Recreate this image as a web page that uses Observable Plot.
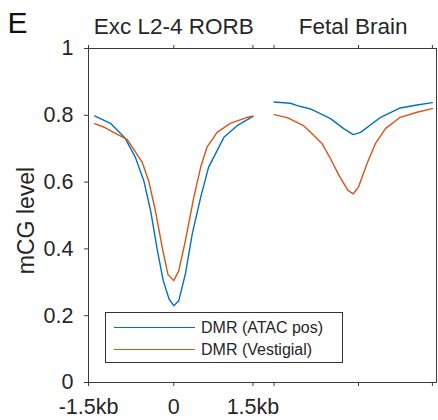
<!DOCTYPE html>
<html>
<head>
<meta charset="utf-8">
<script src="https://cdn.jsdelivr.net/npm/d3@7"></script>
<script src="https://cdn.jsdelivr.net/npm/@observablehq/plot@0.6"></script>
<style>
  body { margin: 0; background: #fff; }
  #wrap { position: relative; width: 438px; height: 420px; font-family: "Liberation Sans", Arial, Helvetica, sans-serif; }
  #legend { position: absolute; left: 105px; top: 312px; width: 238px; height: 51px; border: 1px solid #333; background: #fff; box-sizing: border-box; }
  .lg-row { position: absolute; left: 0; height: 20px; width: 100%; }
  .lg-line { position: absolute; left: 8px; width: 81px; top: 9px; height: 0; border-top-width: 1.4px; border-top-style: solid; }
  .lg-text { position: absolute; left: 95px; top: 0; font-size: 16px; line-height: 20px; color: #262626; white-space: nowrap; }
</style>
</head>
<body>
<div id="wrap"></div>
<script>
// ---- data ----
const panelLabel = "E";
const yLabel = "mCG level";
const seriesNames = ["DMR (ATAC pos)", "DMR (Vestigial)"];
const seriesColors = ["#0072BD", "#D95319"];
const panelNames = ["Exc L2-4 RORB", "Fetal Brain"];
const panelOffsetKb = [0, 3.4];

// Exc L2-4 RORB, DMR (ATAC pos)
const rorbAtacKb  = [-1.5, -1.2, -0.92, -0.73, -0.57, -0.44, -0.31, -0.20, -0.09, 0, 0.095, 0.22, 0.35, 0.51, 0.66, 0.95, 1.2, 1.5];
const rorbAtacMcg = [0.798, 0.776, 0.731, 0.675, 0.605, 0.515, 0.395, 0.305, 0.25, 0.23, 0.245, 0.325, 0.445, 0.555, 0.645, 0.734, 0.769, 0.797];
// Exc L2-4 RORB, DMR (Vestigial)
const rorbVestKb  = [-1.5, -1.33, -1.14, -0.88, -0.60, -0.47, -0.35, -0.22, -0.11, 0, 0.095, 0.22, 0.38, 0.51, 0.63, 0.82, 1.07, 1.39, 1.5];
const rorbVestMcg = [0.775, 0.765, 0.749, 0.727, 0.66, 0.60, 0.515, 0.405, 0.323, 0.305, 0.335, 0.425, 0.555, 0.645, 0.705, 0.749, 0.776, 0.794, 0.797];
// Fetal Brain, DMR (ATAC pos)
const fetalAtacKb  = [-1.5, -1.19, -1.06, -0.81, -0.43, -0.18, 0, 0.14, 0.52, 0.89, 1.21, 1.5];
const fetalAtacMcg = [0.840, 0.836, 0.829, 0.819, 0.790, 0.760, 0.742, 0.749, 0.794, 0.822, 0.831, 0.838];
// Fetal Brain, DMR (Vestigial)
const fetalVestKb  = [-1.5, -1.25, -0.94, -0.75, -0.59, -0.43, -0.27, -0.10, 0, 0.10, 0.26, 0.42, 0.61, 0.89, 1.21, 1.5];
const fetalVestMcg = [0.802, 0.793, 0.769, 0.740, 0.715, 0.670, 0.620, 0.575, 0.565, 0.585, 0.655, 0.715, 0.760, 0.794, 0.809, 0.820];

const xTickValues = [-1.616, 0, 1.5, 1.9, 3.5, 4.9];
const xTickLabels = ["-1.5kb", "0", "1.5kb", "", "", ""];
const yTickValues = [0, 0.2, 0.4, 0.6, 0.8, 1];
const yTickLabels = ["0", "0.2", "0.4", "0.6", "0.8", "1"];

// ---- build table ----
const groups = [
  {panel: 0, series: 0, kb: rorbAtacKb, v: rorbAtacMcg},
  {panel: 0, series: 1, kb: rorbVestKb, v: rorbVestMcg},
  {panel: 1, series: 0, kb: fetalAtacKb, v: fetalAtacMcg},
  {panel: 1, series: 1, kb: fetalVestKb, v: fetalVestMcg}
];
const rows = [];
for (const g of groups) {
  g.kb.forEach((k, i) => rows.push({
    key: panelNames[g.panel] + "|" + seriesNames[g.series],
    series: seriesNames[g.series],
    u: k + panelOffsetKb[g.panel],
    mcg: g.v[i]
  }));
}
const xLab = new Map(xTickValues.map((v, i) => [v, xTickLabels[i]]));
const yLab = new Map(yTickValues.map((v, i) => [v, yTickLabels[i]]));
const font = "'Liberation Sans', Arial, Helvetica, sans-serif";
const ink = "#262626";

const chart = Plot.plot({
  width: 438,
  height: 420,
  marginLeft: 88,
  marginRight: 2,
  marginTop: 48,
  marginBottom: 38,
  x: {domain: [-1.616, 4.978]},
  y: {domain: [0, 1]},
  color: {domain: seriesNames, range: seriesColors},
  style: {fontFamily: font, color: ink, background: "#fff", overflow: "visible"},
  marks: [
    Plot.frame({stroke: "#3a3a3a", strokeWidth: 1}),
    Plot.axisX({anchor: "bottom", ticks: xTickValues, tickFormat: d => xLab.get(d), tickSize: 4, tickPadding: 12, fontSize: 21.5, label: null, stroke: "#3a3a3a", fill: ink}),
    Plot.axisX({anchor: "top", ticks: xTickValues, tickFormat: () => "", tickSize: 4, label: null, stroke: "#3a3a3a"}),
    Plot.axisY({anchor: "left", ticks: yTickValues, tickFormat: d => yLab.get(d), tickSize: 4, tickPadding: 11, fontSize: 21.5, label: null, stroke: "#3a3a3a", fill: ink}),
    Plot.line(rows, {x: "u", y: "mcg", z: "key", stroke: "series", strokeWidth: 1.4}),
    Plot.text(panelNames, {x: (d, i) => panelOffsetKb[i], frameAnchor: "top", dy: -15, lineAnchor: "bottom", textAnchor: "middle", fontSize: 22.5, fill: ink, text: d => d}),
    Plot.text([yLabel], {frameAnchor: "left", rotate: -90, dx: -55, dy: 5, lineAnchor: "bottom", textAnchor: "middle", fontSize: 23, fill: ink, text: d => d}),
    Plot.text([panelLabel], {frameAnchor: "top-left", dx: -81, dy: -16, lineAnchor: "bottom", textAnchor: "start", fontSize: 30, fill: "#111", text: d => d})
  ]
});

const wrap = document.getElementById("wrap");
wrap.appendChild(chart);

// legend (HTML overlay inside the axes box)
const legend = document.createElement("div");
legend.id = "legend";
seriesNames.forEach((name, i) => {
  const row = document.createElement("div");
  row.className = "lg-row";
  row.style.top = (5 + i * 22) + "px";
  const ln = document.createElement("div");
  ln.className = "lg-line";
  ln.style.borderTopColor = seriesColors[i];
  const tx = document.createElement("div");
  tx.className = "lg-text";
  tx.textContent = name;
  row.appendChild(ln);
  row.appendChild(tx);
  legend.appendChild(row);
});
wrap.appendChild(legend);
</script>
</body>
</html>
